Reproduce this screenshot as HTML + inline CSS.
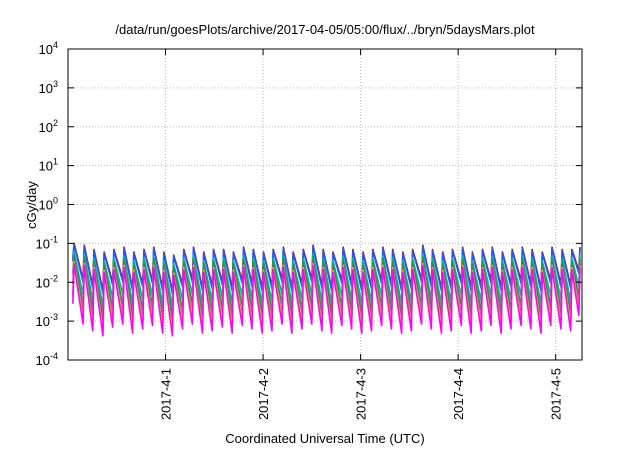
<!DOCTYPE html>
<html><head><meta charset="utf-8"><style>
body{margin:0;background:#fff}
svg text{font-family:"Liberation Sans",sans-serif;fill:#000}
</style></head><body>
<svg id="c" width="640" height="448">
<text x="325" y="34" font-size="13" text-anchor="middle">/data/run/goesPlots/archive/2017-04-05/05:00/flux/../bryn/5daysMars.plot</text>
<text transform="translate(36,205) rotate(-90)" font-size="13" text-anchor="middle">cGy/day</text>
<text x="325" y="443" font-size="13" text-anchor="middle">Coordinated Universal Time (UTC)</text>
<g id="grid"></g><g id="series"></g><g id="axes"></g>
</svg>
<script>
const yExps=[-4,-3,-2,-1,0,1,2,3,4];
const xTickDays=[1,2,3,4,5];
const xTickLabels=["2017-4-1","2017-4-2","2017-4-3","2017-4-4","2017-4-5"];
const cycleHours=[1.5,4.0,6.4,8.9,11.3,13.8,16.2,18.7,21.1,23.6,26.0,28.5,30.9,33.4,35.8,38.3,40.7,43.2,45.6,48.1,50.5,53.0,55.4,57.9,60.3,62.8,65.2,67.7,70.1,72.6,75.0,77.5,79.9,82.4,84.8,87.3,89.7,92.2,94.6,97.1,99.5,102.0,104.4,106.9,109.3,111.8,114.2,116.7,119.1,121.6,124.0,126.0];
const peakVals=[0.1,0.09,0.07,0.06,0.07,0.08,0.06,0.07,0.08,0.06,0.05,0.07,0.08,0.06,0.07,0.07,0.06,0.08,0.07,0.06,0.07,0.08,0.06,0.07,0.09,0.07,0.06,0.08,0.07,0.06,0.07,0.08,0.07,0.06,0.07,0.09,0.07,0.06,0.07,0.08,0.06,0.07,0.08,0.06,0.07,0.08,0.07,0.06,0.08,0.07,0.07,0.08];
const troughVals=[0.04,0.012,0.008,0.006,0.01,0.012,0.007,0.009,0.011,0.007,0.006,0.009,0.012,0.007,0.008,0.01,0.007,0.011,0.009,0.007,0.008,0.012,0.007,0.009,0.012,0.008,0.007,0.011,0.009,0.007,0.008,0.011,0.009,0.007,0.008,0.012,0.009,0.007,0.008,0.011,0.007,0.008,0.011,0.007,0.009,0.011,0.009,0.007,0.011,0.009,0.008,0.02];
const seriesNames=["red","blue","teal","green","purple","yellow","magenta"];
const seriesColors=["#e00000","#1060ff","#00b8a0","#20a040","#9a3c8c","#e0c000","#ff00ff"];
const peakRatios=[1,0.92,0.6,0.5,0.38,0.34,0.3];
const troughRatios=[1,0.85,0.4,0.22,0.12,0.1,0.07];
const L=68,R=582,T=49,B=360,NS="http://www.w3.org/2000/svg";
const xs=h=>L+(h/24)/5.27*(R-L);
const ys=v=>B-(Math.log10(v)+4)/8*(B-T);
function mk(tag,attrs,parent){const e=document.createElementNS(NS,tag);for(const k in attrs)e.setAttribute(k,attrs[k]);parent.appendChild(e);return e;}
const grid=document.getElementById('grid'),axes=document.getElementById('axes'),ser=document.getElementById('series');
yExps.forEach(p=>{const y=ys(Math.pow(10,p));
 if(p>-4&&p<4){const g=mk('line',{x1:L,x2:R,y1:y,y2:y,stroke:'#bbb','stroke-dasharray':'1,2'},grid);}
 const t=mk('text',{x:58,y:y+5,'font-size':13,'text-anchor':'end'},axes);
 
 
 t.innerHTML='10<tspan dy="-6" font-size="9">'+p+'</tspan>';
 mk('line',{x1:L,x2:L+6,y1:y,y2:y,stroke:'#000'},axes);mk('line',{x1:R,x2:R-6,y1:y,y2:y,stroke:'#000'},axes);
});
xTickDays.forEach((d,i)=>{const x=xs(d*24);
 const g=mk('line',{x1:x,x2:x,y1:T,y2:B,stroke:'#bbb','stroke-dasharray':'1,2'},grid);
 mk('line',{x1:x,x2:x,y1:B,y2:B-6,stroke:'#000'},axes);mk('line',{x1:x,x2:x,y1:T,y2:T+6,stroke:'#000'},axes);
 const t=mk('text',{transform:`translate(${x+5},368) rotate(-90)`,'font-size':13,'text-anchor':'end'},axes);
 
 
 t.textContent=xTickLabels[i];
});
seriesNames.forEach((n,s)=>{
 let pts=[];
 cycleHours.forEach((h,i)=>{pts.push(xs(Math.max(0,h-0.3))+','+ys(troughVals[i]*troughRatios[s]));pts.push(xs(h)+','+ys(peakVals[i]*peakRatios[s]));});
 const p=mk('polyline',{points:pts.join(' '),fill:'none',stroke:seriesColors[s],'stroke-width':1.6,'stroke-linejoin':'round'},ser);
 
 
});
const f=mk('rect',{x:L,y:T,width:R-L,height:B-T,fill:'none',stroke:'#000'},axes);


</script>
</body></html>
